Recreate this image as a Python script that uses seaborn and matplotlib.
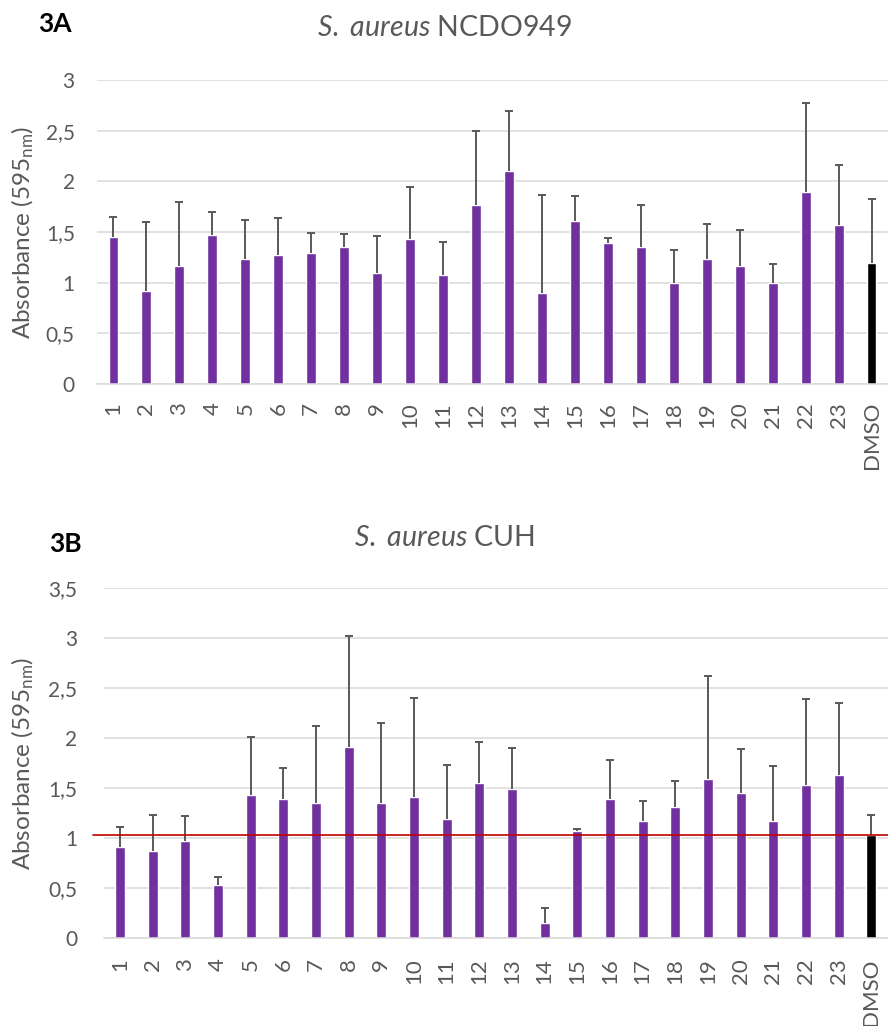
import numpy as np
import pandas as pd
import matplotlib
matplotlib.use("Agg")
import matplotlib.pyplot as plt
import seaborn as sns

sns.set_style("white")
plt.rcParams["font.family"] = ["Lato", "DejaVu Sans"]
plt.rcParams["mathtext.fontset"] = "custom"
plt.rcParams["mathtext.rm"] = "Lato"
plt.rcParams["mathtext.it"] = "Lato:italic"

# data
labels = [str(i) for i in range(1, 24)] + ["DMSO"]

ncdo_mean = [1.45, 0.92, 1.16, 1.47, 1.23, 1.27, 1.29, 1.35, 1.10, 1.43, 1.08, 1.77,
             2.10, 0.90, 1.61, 1.39, 1.35, 1.00, 1.23, 1.16, 1.00, 1.89, 1.57, 1.19]
ncdo_top = [1.65, 1.60, 1.80, 1.70, 1.62, 1.64, 1.49, 1.48, 1.46, 1.94, 1.40, 2.50,
            2.69, 1.87, 1.86, 1.44, 1.77, 1.32, 1.58, 1.52, 1.18, 2.77, 2.16, 1.83]

cuh_mean = [0.91, 0.87, 0.97, 0.53, 1.43, 1.39, 1.35, 1.91, 1.35, 1.41, 1.19, 1.55,
            1.49, 0.15, 1.07, 1.39, 1.17, 1.31, 1.59, 1.45, 1.17, 1.53, 1.63, 1.03]
cuh_top = [1.11, 1.23, 1.22, 0.61, 2.01, 1.70, 2.12, 3.02, 2.15, 2.40, 1.73, 1.96,
           1.90, 0.30, 1.09, 1.78, 1.37, 1.57, 2.62, 1.89, 1.72, 2.39, 2.35, 1.23]

PURPLE = "#7030A0"
GREY = "#595959"
GRID = "#D9D9D9"
palette = {lab: ("black" if lab == "DMSO" else PURPLE) for lab in labels}


def draw_panel(ax, mean, top, ymax, xpad, ypad):
    df = pd.DataFrame({"sample": labels, "abs": mean})
    sns.barplot(data=df, x="sample", y="abs", hue="sample", palette=palette,
                width=0.3, legend=False, saturation=1, ax=ax)
    up = np.array(top) - np.array(mean)
    _, caps, _ = ax.errorbar(np.arange(len(labels)), mean,
                             yerr=[np.zeros(len(up)), up], fmt="none", ecolor=GREY,
                             elinewidth=1.4, capsize=3, capthick=1.4)
    # only keep the upper caps
    for c in caps:
        if np.allclose(c.get_ydata(), mean):
            c.set_visible(False)
    ax.set_xlim(-0.5, len(labels) - 0.5)
    ax.set_ylim(0, ymax)
    ticks = np.arange(0, ymax + 0.01, 0.5)
    ax.set_yticks(ticks)
    ax.set_yticklabels([f"{t:g}".replace(".", ",") for t in ticks])
    ax.yaxis.grid(True, color=GRID, lw=1.1)
    ax.set_axisbelow(True)
    for s in ["top", "right", "left"]:
        ax.spines[s].set_visible(False)
    ax.spines["bottom"].set_color(GRID)
    ax.spines["bottom"].set_linewidth(1.1)
    ax.tick_params(axis="y", length=0, pad=ypad, labelsize=15, labelcolor=GREY)
    ax.tick_params(axis="x", length=0, pad=xpad, labelsize=16, labelcolor=GREY,
                   labelrotation=90)
    ax.set_xlabel("")
    ax.set_ylabel(r"Absorbance (595$_{\rm nm}$)", fontsize=17.5, color=GREY, va="center")


fig = plt.figure(figsize=(8.88, 10.26), dpi=100)
ax1 = fig.add_axes([97 / 888, 642 / 1026, 791 / 888, 304 / 1026])
ax2 = fig.add_axes([103.7 / 888, 88 / 1026, 784 / 888, 350 / 1026])

draw_panel(ax1, ncdo_mean, ncdo_top, 3, 13, 16)
ax1.yaxis.set_label_coords((23 - 97) / 791, 0.5)

draw_panel(ax2, cuh_mean, cuh_top, 3.5, 14.5, 19)
ax2.yaxis.set_label_coords((23 - 103.7) / 784, 0.5)
ax2.axhline(cuh_mean[-1], xmin=-0.014, xmax=1, color="#C00000", lw=1.2, clip_on=False)

fig.text(0.5, 1 - 28 / 1026, r"$\it{S.}$ $\it{aureus}$ NCDO949", ha="center",
         va="center", fontsize=20.5, color=GREY)
fig.text(0.5, 1 - 538 / 1026, r"$\it{S.}$ $\it{aureus}$ CUH", ha="center",
         va="center", fontsize=20.5, color=GREY)
fig.text(38 / 888, 1 - 24 / 1026, "3A", ha="left", va="center", fontsize=19,
         fontweight="bold", color="black")
fig.text(49 / 888, 1 - 544 / 1026, "3B", ha="left", va="center", fontsize=19,
         fontweight="bold", color="black")

fig.savefig("out.png", dpi=100)
